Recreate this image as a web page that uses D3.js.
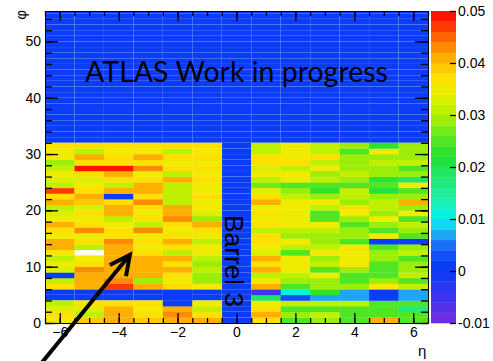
<!DOCTYPE html>
<html>
<head>
<meta charset="utf-8">
<script src="https://cdn.jsdelivr.net/npm/d3@7"></script>
<style>
  body { margin: 0; background: #fff; }
  text { font-family: "Liberation Sans", Arial, sans-serif; }
</style>
</head>
<body>
<div id="div_chart"></div>
<script>
// eta bins (barrel column at 0 is empty) and phi rows 0..31
var etaBins = [-6, -5, -4, -3, -2, -1, 0, 1, 2, 3, 4, 5, 6];
var phiRows = d3.range(32);
var etaTicks = [-6, -4, -2, 0, 2, 4, 6];
var phiTicks = [0, 10, 20, 30, 40, 50];
var zTicks = [-0.01, 0, 0.01, 0.02, 0.03, 0.04, 0.05];
var zTickLabels = ["-0.01", "0", "0.01", "0.02", "0.03", "0.04", "0.05"];

// values per eta column, index = phi row (0 at bottom)
var colM6 = [0.035,0.036,0.033,0.031,0,0,0.036,0.031,0.001,0.033,0.034,0.030,0.035,0.040,0.041,0.035,
             0.036,0.040,0.035,0.032,0.031,0.041,0.036,0.047,0.031,0.032,0.035,0.030,0.029,0.034,0.035,0.036];
var colM5 = [0.038,0.030,0.033,0.036,0,0,0.041,0.040,0.041,0.042,0.036,0.035,0.060,0.031,0.037,0.035,
             0.042,0.036,0.035,0.036,0.033,0.039,0.041,0.036,0.035,0.032,0.036,0.048,0.036,0.040,0.030,0.036];
var colM4 = [0.041,0.041,0.041,0.036,0,0,0.047,0.043,0.041,0.040,0.041,0.040,0.041,0.041,0.042,0.036,
             0.036,0.035,0.031,0.041,0.041,0.036,0.001,0.041,0.030,0.036,0.040,0.048,0.036,0.036,0.035,0.036];
var colM3 = [0.038,0.036,0.035,0.036,0,0,0.040,0.029,0.041,0.040,0.041,0.040,0.036,0.035,0.036,0.035,
             0.042,0.031,0.036,0.035,0.036,0.042,0.036,0.041,0.041,0.036,0.035,0.042,0.036,0.040,0.035,0.036];
var colM2 = [0.041,0.043,0.041,0.001,0.001,0.001,0.036,0.035,0.036,0.040,0.036,0.040,0.030,0.036,0.041,0.036,
             0.035,0.036,0.043,0.041,0.041,0.030,0.030,0.030,0.031,0.041,0.030,0.036,0.035,0.036,0.031,0.036];
var colM1 = [0.041,0.036,0.031,0.035,0,0,0.034,0.028,0.029,0.030,0.028,0.031,0.034,0.035,0.031,0.035,
             0.036,0.040,0.029,0.033,0.035,0.035,0.036,0.035,0.035,0.036,0.035,0.036,0.035,0.036,0.035,0.036];
var col0  = [0,0,0,0,0,0,0,0,0,0,0,0,0,0,0,0,0,0,0,0,0,0,0,0,0,0,0,0,0,0,0,0];
var colP1 = [0.036,0.041,0.036,0.035,0.018,-0.006,0.041,0.035,0.031,0.041,0.036,0.041,0.032,0.035,0.036,0.036,
             0.030,0.036,0.035,0.036,0.035,0.041,0.036,0.032,0.027,0.030,0.035,0.032,0.036,0.036,0.030,0.031];
var colP2 = [0.024,0.028,0.024,0.031,0.002,0.010,0.024,0.028,0.031,0.034,0.034,0.035,0.024,0.031,0.034,0.028,
             0.031,0.035,0.034,0.034,0.035,0.034,0.031,0.028,0.024,0.034,0.035,0.031,0.036,0.035,0.034,0.035];
var colP3 = [0.028,0.031,0.024,0.031,0.007,0.022,0.028,0.028,0.034,0.024,0.031,0.028,0.035,0.031,0.028,0.028,
             0.031,0.034,0.024,0.024,0.031,0.034,0.028,0.022,0.024,0.031,0.028,0.035,0.031,0.036,0.031,0.030];
var colP4 = [0.024,0.024,0.024,0.031,0.007,0.007,0.028,0.024,0.024,0.028,0.035,0.035,0.035,0.035,0.024,0.028,
             0.028,0.024,0.028,0.035,0.036,0.028,0.031,0.031,0.024,0.028,0.031,0.028,0.028,0.028,0.024,0.028];
var colP5 = [0.041,0.024,0.024,0.024,0.001,0.001,0.035,0.028,0.024,0.024,0.024,0.028,0.028,0.024,0.001,0.034,
             0.024,0.028,0.035,0.028,0.031,0.031,0.028,0.021,0.024,0.023,0.028,0.028,0.031,0.028,0.035,0.022];
var colP6 = [0.024,0.024,0.017,0.024,0.006,0.006,0.031,0.024,0.031,0.028,0.028,0.024,0.031,0.028,0.001,0.024,
             0.028,0.031,0.024,0.035,0.028,0.041,0.028,0.024,0.035,0.018,0.028,0.024,0.031,0.028,0.028,0.028];

var columns = [colM6, colM5, colM4, colM3, colM2, colM1, col0, colP1, colP2, colP3, colP4, colP5, colP6];

// palette stops (z value -> colour), rainbow like ROOT
var paletteZ = [-0.010, -0.005, 0.000, 0.002, 0.005, 0.008, 0.010, 0.014, 0.018, 0.022, 0.026, 0.030, 0.034, 0.037, 0.040, 0.043, 0.046, 0.050];
var paletteC = ["#7a2ee0","#3d34f0","#0b3af6","#0c40f6","#1a70f5","#20c0f5","#00f0f0","#20f0a8","#20e870","#20e030",
                "#60e820","#b0f000","#e8f000","#ffe000","#ffc000","#ff8c00","#ff5000","#ff0000"];

var width = 493, height = 361;
var plot = {left: 45, right: 428, top: 11, bottom: 323};

var svg = d3.select("#div_chart").append("svg")
    .attr("width", width).attr("height", height);

var x = d3.scaleLinear().domain([-6.5, 6.5]).range([plot.left, plot.right]);
var y = d3.scaleLinear().domain([0, 55.4]).range([plot.bottom, plot.top]);

var zMin = -0.01, zMax = 0.05, nContours = 30;
var palette = d3.scaleLinear().domain(paletteZ).range(paletteC);
var bandStep = (zMax - zMin) / nContours;
function colorOf(v) {
    var b = Math.floor((v - zMin) / bandStep + 1e-9);
    b = Math.max(0, Math.min(nContours - 1, b));
    return palette(zMin + (b + 0.5) * bandStep);
}

svg.append("clipPath").attr("id", "frameClip")
  .append("rect")
    .attr("x", plot.left).attr("y", plot.top)
    .attr("width", plot.right - plot.left).attr("height", plot.bottom - plot.top);

var cells = svg.append("g").attr("clip-path", "url(#frameClip)");

// zero-content bins above the barrel rows (painted blue like the rest)
var emptyRows = d3.range(32, 56);
var emptyCells = [];
etaBins.forEach(function (e) {
    emptyRows.forEach(function (p) { emptyCells.push({eta: e, phi: p, v: 0}); });
});
var dataCells = [];
etaBins.forEach(function (e, i) {
    phiRows.forEach(function (p) { dataCells.push({eta: e, phi: p, v: columns[i][p]}); });
});

cells.selectAll("rect.empty")
    .data(emptyCells.concat(dataCells.filter(d => d.v === 0)))
    .enter().append("rect")
    .attr("x", d => x(d.eta - 0.5))
    .attr("y", d => y(d.phi + 1))
    .attr("width", d => x(d.eta + 0.5) - x(d.eta - 0.5))
    .attr("height", d => y(d.phi) - y(d.phi + 1))
    .attr("fill", colorOf(0))
    .attr("stroke", "rgba(255,255,255,0.045)")
    .attr("stroke-width", 0.6);

// values above the maximum are not painted (white)
cells.selectAll("rect.cell")
    .data(dataCells.filter(d => d.v !== 0 && d.v <= zMax))
    .enter().append("rect")
    .attr("x", d => x(d.eta - 0.5))
    .attr("y", d => y(d.phi + 1))
    .attr("width", d => x(d.eta + 0.5) - x(d.eta - 0.5) + 0.3)
    .attr("height", d => y(d.phi) - y(d.phi + 1) + 0.3)
    .attr("fill", d => colorOf(d.v));

// axes with inward ticks on all four sides
function styleAxis(g) {
    g.selectAll("path.domain").attr("stroke", "#000").attr("stroke-width", 1);
    g.selectAll("line").attr("stroke", "#000").attr("stroke-width", 1.3);
    g.selectAll("text").attr("font-size", 14).attr("fill", "#000");
}
var minorEta = d3.range(-6.5, 6.51, 0.5);
var minorPhi = d3.range(0, 55.4, 2);

svg.append("g").attr("transform", "translate(0," + plot.bottom + ")")
    .call(d3.axisBottom(x).tickValues(minorEta).tickSize(-5).tickFormat("").tickSizeOuter(0)).call(styleAxis);
svg.append("g").attr("transform", "translate(0," + plot.bottom + ")")
    .call(d3.axisBottom(x).tickValues(etaTicks).tickSize(-10).tickPadding(4).tickSizeOuter(0)
        .tickFormat(d3.format("d"))).call(styleAxis);
svg.append("g").attr("transform", "translate(0," + plot.top + ")")
    .call(d3.axisTop(x).tickValues(minorEta).tickSize(-5).tickFormat("").tickSizeOuter(0)).call(styleAxis);
svg.append("g").attr("transform", "translate(0," + plot.top + ")")
    .call(d3.axisTop(x).tickValues(etaTicks).tickSize(-10).tickFormat("").tickSizeOuter(0)).call(styleAxis);

svg.append("g").attr("transform", "translate(" + plot.left + ",0)")
    .call(d3.axisLeft(y).tickValues(minorPhi).tickSize(-7).tickFormat("").tickSizeOuter(0)).call(styleAxis);
svg.append("g").attr("transform", "translate(" + plot.left + ",0)")
    .call(d3.axisLeft(y).tickValues(phiTicks).tickSize(-13).tickPadding(4).tickSizeOuter(0)
        .tickFormat(d3.format("d"))).call(styleAxis);
svg.append("g").attr("transform", "translate(" + plot.right + ",0)")
    .call(d3.axisRight(y).tickValues(minorPhi).tickSize(-7).tickFormat("").tickSizeOuter(0)).call(styleAxis);
svg.append("g").attr("transform", "translate(" + plot.right + ",0)")
    .call(d3.axisRight(y).tickValues(phiTicks).tickSize(-13).tickFormat("").tickSizeOuter(0)).call(styleAxis);

// axis titles
svg.append("text").attr("x", x(6.3)).attr("y", 356)
    .attr("text-anchor", "middle").attr("font-size", 15).text("η");
svg.append("text")
    .attr("transform", "translate(20," + (plot.top + 4) + ") rotate(-90)")
    .attr("text-anchor", "middle").attr("dominant-baseline", "central")
    .attr("font-size", 15).text("φ");

// colour bar
var bar = {left: 431, right: 456};
var z = d3.scaleLinear().domain([zMin, zMax]).range([plot.bottom, plot.top]);
var bands = d3.range(nContours).map(i => zMin + i * bandStep);
svg.append("g").selectAll("rect")
    .data(bands).enter().append("rect")
    .attr("x", bar.left)
    .attr("y", d => z(d + bandStep))
    .attr("width", bar.right - bar.left)
    .attr("height", d => z(d) - z(d + bandStep) + 0.3)
    .attr("fill", d => colorOf(d + bandStep / 2));
var zAxis = svg.append("g").attr("transform", "translate(" + bar.right + ",0)")
    .call(d3.axisRight(z).tickValues(zTicks).tickSize(-6).tickPadding(3).tickSizeOuter(0)
        .tickFormat((d, i) => zTickLabels[i])).call(styleAxis);
zAxis.select("path.domain").remove();
zAxis.selectAll("text").attr("x", 2);

// annotations
var title = svg.append("text")
    .attr("x", x(0)).attr("y", 82)
    .attr("text-anchor", "middle")
    .style("font-family", "Lato, 'Open Sans', sans-serif")
    .attr("font-size", 27)
    .text("ATLAS Work in progress");
var tw = title.node().getComputedTextLength();
title.attr("font-size", 27 * 303 / tw);

var barrel = svg.append("text")
    .attr("transform", "translate(" + (x(0) - 3) + "," + y(11) + ") rotate(90)")
    .attr("text-anchor", "middle").attr("dominant-baseline", "central")
    .attr("font-size", 26).text("Barrel 3");
var bw = barrel.node().getComputedTextLength();
barrel.attr("font-size", 26 * 92 / bw);

// arrow pointing at the hot cell
var arrowTip = [-3.62, 12.1], arrowTail = [-6.85, -8.6];
var line = d3.line().x(d => x(d[0])).y(d => y(d[1]));
svg.append("path")
    .datum([arrowTail, arrowTip])
    .attr("d", line)
    .attr("stroke", "#000").attr("stroke-width", 4).attr("fill", "none");
svg.append("path")
    .datum([[-4.3, 10.3], arrowTip, [-3.75, 8.3]])
    .attr("d", line)
    .attr("stroke", "#000").attr("stroke-width", 4).attr("fill", "none")
    .attr("stroke-linejoin", "miter").attr("stroke-linecap", "butt");
</script>
</body>
</html>
